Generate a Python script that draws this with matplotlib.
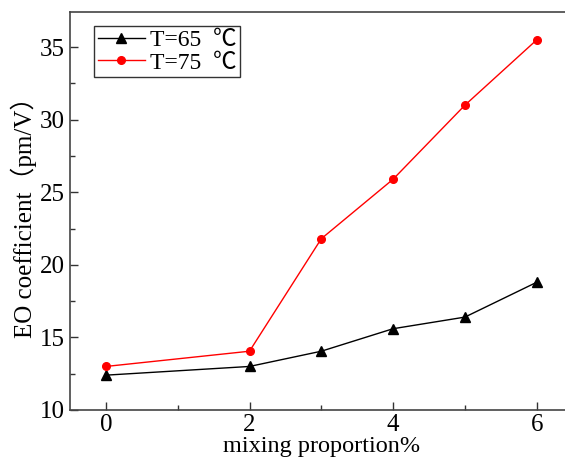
import matplotlib
matplotlib.use("Agg")
import matplotlib.pyplot as plt
from matplotlib.ticker import MultipleLocator

x65 = [0, 2, 3, 4, 5, 6]
y65 = [12.4, 13.0, 14.05, 15.6, 16.4, 18.8]
x75 = [0, 2, 3, 4, 5, 6]
y75 = [13.0, 14.05, 21.8, 25.9, 31.0, 35.5]
label65 = "T=65  \u2103"
label75 = "T=75  \u2103"
xlabel = "mixing proportion%"
ylabel = "EO coefficient\uff08pm/V\uff09"

fams = ["Liberation Serif", "Noto Sans CJK SC", "DejaVu Sans"]
plt.rcParams["font.family"] = fams

fig = plt.figure(figsize=(5.65, 4.59), dpi=100)
ax = fig.add_axes([70 / 565, 49 / 459, 502.6 / 565, 397.7 / 459])

ax.plot(x65, y65, color="black", lw=1.0, marker="^", ms=7.5, label=label65)
ax.plot(x75, y75, color="red", lw=1.0, marker="o", ms=5.5, label=label75)

ax.set_xlim(-0.5, 6.5)
ax.set_ylim(10, 37.4)
ax.xaxis.set_major_locator(MultipleLocator(2))
ax.xaxis.set_minor_locator(MultipleLocator(1))
ax.yaxis.set_major_locator(MultipleLocator(5))
ax.yaxis.set_minor_locator(MultipleLocator(2.5))

ax.tick_params(which="both", direction="in", top=False, right=False, labelsize=18, pad=4, color="#333333")
ax.tick_params(axis="x", pad=3)
ax.tick_params(which="major", length=6, width=1)
ax.tick_params(which="minor", length=3.5, width=1)
for sp in ax.spines.values():
    sp.set_linewidth(1.2)
    sp.set_color("#444444")
ax.spines["right"].set_visible(False)

ax.set_xlabel(xlabel, fontsize=17.5, labelpad=0)
ax.set_ylabel(ylabel, fontsize=18, labelpad=2)

leg = ax.legend(loc="upper left", bbox_to_anchor=(0.048, 0.966), borderaxespad=0,
                fontsize=17, frameon=True, fancybox=False, handlelength=2.0,
                handletextpad=0.2, borderpad=0.15, labelspacing=0.05)
leg.get_frame().set_edgecolor("black")
leg.get_frame().set_linewidth(1.0)

fig.savefig("out.png", dpi=100)
